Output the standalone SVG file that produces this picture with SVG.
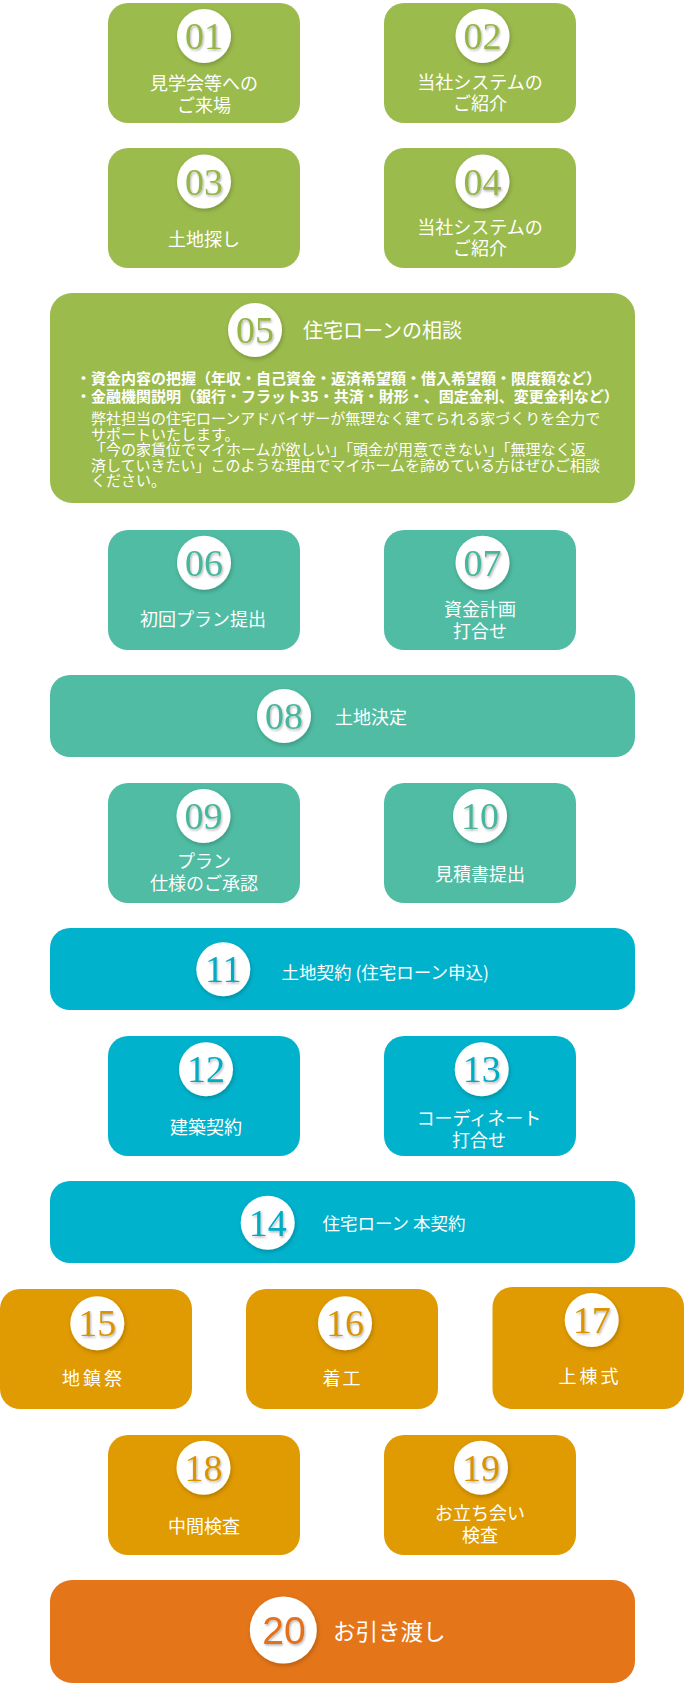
<svg xmlns="http://www.w3.org/2000/svg" width="684" height="1695" viewBox="0 0 684 1695">
<defs>
<filter id="csh" x="-30%" y="-30%" width="170%" height="170%"><feDropShadow dx="1" dy="2" stdDeviation="2" flood-color="#000" flood-opacity="0.22"/></filter>
<filter id="tsh" x="-20%" y="-20%" width="150%" height="150%"><feDropShadow dx="1" dy="1.5" stdDeviation="1" flood-color="#000" flood-opacity="0.3"/></filter>
<style>
.g{fill:#9bbb4d}.t{fill:#4fbca3}.c{fill:#01b2cc}.o{fill:#e09a02}.r{fill:#e47519}
.ng{fill:#95b547}.nt{fill:#47b69c}.nc{fill:#01abc4}.no{fill:#d99400}.nr{fill:#e2711a}
.cir{fill:#fff;filter:url(#csh)}
.num{font-family:"Liberation Serif",serif;font-size:38px;text-anchor:middle;filter:url(#tsh)}
.num2{font-family:"Liberation Sans",sans-serif;font-size:39px;text-anchor:middle;filter:url(#tsh)}
.lbl{font-family:"Noto Sans CJK JP","Noto Sans CJK SC",sans-serif;font-size:18px;fill:#fff;text-anchor:middle}
.lbs{font-family:"Noto Sans CJK JP","Noto Sans CJK SC",sans-serif;font-size:17.5px;fill:#fff}
.bul{font-family:"Noto Sans CJK JP","Noto Sans CJK SC",sans-serif;font-size:15px;font-weight:700;fill:#fff}
.body{font-family:"Noto Sans CJK JP","Noto Sans CJK SC",sans-serif;font-size:15px;fill:#fff}
</style>
</defs>
<g id="connectors"/>

<g id="step01">
<rect class="g" x="108" y="3" width="192" height="120" rx="20"/>
<circle class="cir" cx="204" cy="36" r="27"/>
<text class="num ng" x="204" y="49">01</text>
<text class="lbl" x="204" y="90">見学会等への</text>
<text class="lbl" x="204" y="112">ご来場</text>
</g>
<g id="step02">
<rect class="g" x="384" y="3" width="192" height="120" rx="20"/>
<circle class="cir" cx="482.5" cy="36" r="27"/>
<text class="num ng" x="482.5" y="49">02</text>
<text class="lbl" x="480" y="88.5">当社システムの</text>
<text class="lbl" x="480" y="110">ご紹介</text>
</g>
<g id="step03">
<rect class="g" x="108" y="148" width="192" height="120" rx="20"/>
<circle class="cir" cx="204" cy="181.5" r="27"/>
<text class="num ng" x="204" y="194.5">03</text>
<text class="lbl" x="204" y="246">土地探し</text>
</g>
<g id="step04">
<rect class="g" x="384" y="148" width="192" height="120" rx="20"/>
<circle class="cir" cx="482.5" cy="181.5" r="27"/>
<text class="num ng" x="482.5" y="194.5">04</text>
<text class="lbl" x="480" y="233.5">当社システムの</text>
<text class="lbl" x="480" y="255">ご紹介</text>
</g>
<g id="step05">
<rect class="g" x="50" y="293" width="585" height="210" rx="22"/>
<circle class="cir" cx="255" cy="330" r="27"/>
<text class="num ng" x="255" y="343">05</text>
<text class="lbl" x="303" y="337.5" style="text-anchor:start;font-size:20px">住宅ローンの相談</text>
<text class="bul" x="76" y="384">・資金内容の把握（年収・自己資金・返済希望額・借入希望額・限度額など）</text>
<text class="bul" x="76" y="402.4">・金融機関説明（銀行・フラット35・共済・財形・、固定金利、変更金利など）</text>
<text class="body" x="91" y="424">弊社担当の住宅ローンアドバイザーが無理なく建てられる家づくりを全力で</text>
<text class="body" x="91" y="439.5">サポートいたします。</text>
<text class="body" x="91" y="455">「今の家賃位でマイホームが欲しい」「頭金が用意できない」「無理なく返</text>
<text class="body" x="91" y="470.5">済していきたい」このような理由でマイホームを諦めている方はぜひご相談</text>
<text class="body" x="91" y="486">ください。</text>
</g>
<g id="step06">
<rect class="t" x="108" y="530" width="192" height="120" rx="20"/>
<circle class="cir" cx="204" cy="562.7" r="27"/>
<text class="num nt" x="204" y="575.7">06</text>
<text class="lbl" x="203" y="626">初回プラン提出</text>
</g>
<g id="step07">
<rect class="t" x="384" y="530" width="192" height="120" rx="20"/>
<circle class="cir" cx="482.5" cy="562.7" r="27"/>
<text class="num nt" x="482.5" y="575.7">07</text>
<text class="lbl" x="480" y="616">資金計画</text>
<text class="lbl" x="480" y="638">打合せ</text>
</g>
<g id="step08">
<rect class="t" x="50" y="675" width="585" height="82" rx="20"/>
<circle class="cir" cx="284" cy="716" r="27"/>
<text class="num nt" x="284" y="729">08</text>
<text class="lbl" x="335" y="723.5" style="text-anchor:start">土地決定</text>
</g>
<g id="step09">
<rect class="t" x="108" y="783" width="192" height="120" rx="20"/>
<circle class="cir" cx="203.5" cy="816" r="27"/>
<text class="num nt" x="203.5" y="829">09</text>
<text class="lbl" x="204" y="867.5">プラン</text>
<text class="lbl" x="204" y="890">仕様のご承認</text>
</g>
<g id="step10">
<rect class="t" x="384" y="783" width="192" height="120" rx="20"/>
<circle class="cir" cx="480" cy="816" r="27"/>
<text class="num nt" x="480" y="829">10</text>
<text class="lbl" x="480" y="881">見積書提出</text>
</g>
<g id="step11">
<rect class="c" x="50" y="928" width="585" height="82" rx="20"/>
<circle class="cir" cx="223.3" cy="969.3" r="27"/>
<text class="num nc" x="223.3" y="982.3">11</text>
<text class="lbs" x="281.5" y="978.6">土地契約 (住宅ローン申込)</text>
</g>
<g id="step12">
<rect class="c" x="108" y="1036" width="192" height="120" rx="20"/>
<circle class="cir" cx="206" cy="1069.3" r="27"/>
<text class="num nc" x="206" y="1082.3">12</text>
<text class="lbl" x="206" y="1133.5">建築契約</text>
</g>
<g id="step13">
<rect class="c" x="384" y="1036" width="192" height="120" rx="20"/>
<circle class="cir" cx="481.7" cy="1069.3" r="27"/>
<text class="num nc" x="481.7" y="1082.3">13</text>
<text class="lbl" x="479" y="1124.5">コーディネート</text>
<text class="lbl" x="479" y="1147">打合せ</text>
</g>
<g id="step14">
<rect class="c" x="50" y="1181" width="585" height="82" rx="20"/>
<circle class="cir" cx="267.7" cy="1222.7" r="27"/>
<text class="num nc" x="267.7" y="1235.7">14</text>
<text class="lbs" x="322.5" y="1229.6">住宅ローン 本契約</text>
</g>
<g id="step15">
<rect class="o" x="0" y="1289" width="192" height="120" rx="20"/>
<circle class="cir" cx="97.3" cy="1323.3" r="27"/>
<text class="num no" x="97.3" y="1336.3">15</text>
<text class="lbl" x="93.5" y="1385" style="letter-spacing:3px">地鎮祭</text>
</g>
<g id="step16">
<rect class="o" x="246" y="1289" width="192" height="120" rx="20"/>
<circle class="cir" cx="345" cy="1323.3" r="27"/>
<text class="num no" x="345" y="1336.3">16</text>
<text class="lbl" x="342.5" y="1385" style="letter-spacing:2px">着工</text>
</g>
<g id="step17">
<rect class="o" x="492.5" y="1287" width="191.5" height="122" rx="20"/>
<circle class="cir" cx="591.7" cy="1320" r="27"/>
<text class="num no" x="591.7" y="1333">17</text>
<text class="lbl" x="590" y="1383" style="letter-spacing:3px">上棟式</text>
</g>
<g id="step18">
<rect class="o" x="108" y="1435" width="192" height="120" rx="20"/>
<circle class="cir" cx="203.5" cy="1467.7" r="27"/>
<text class="num no" x="203.5" y="1480.7">18</text>
<text class="lbl" x="204" y="1533">中間検査</text>
</g>
<g id="step19">
<rect class="o" x="384" y="1435" width="192" height="120" rx="20"/>
<circle class="cir" cx="481" cy="1467.7" r="27"/>
<text class="num no" x="481" y="1480.7">19</text>
<text class="lbl" x="480" y="1520">お立ち会い</text>
<text class="lbl" x="480" y="1542">検査</text>
</g>
<g id="step20">
<rect class="r" x="50" y="1580" width="585" height="103" rx="22"/>
<circle class="cir" cx="283.3" cy="1630" r="33.5"/>
<text class="num2 nr" x="284" y="1643.5">20</text>
<text class="lbl" x="333" y="1640" style="text-anchor:start;font-size:22.5px">お引き渡し</text>
</g>
</svg>
